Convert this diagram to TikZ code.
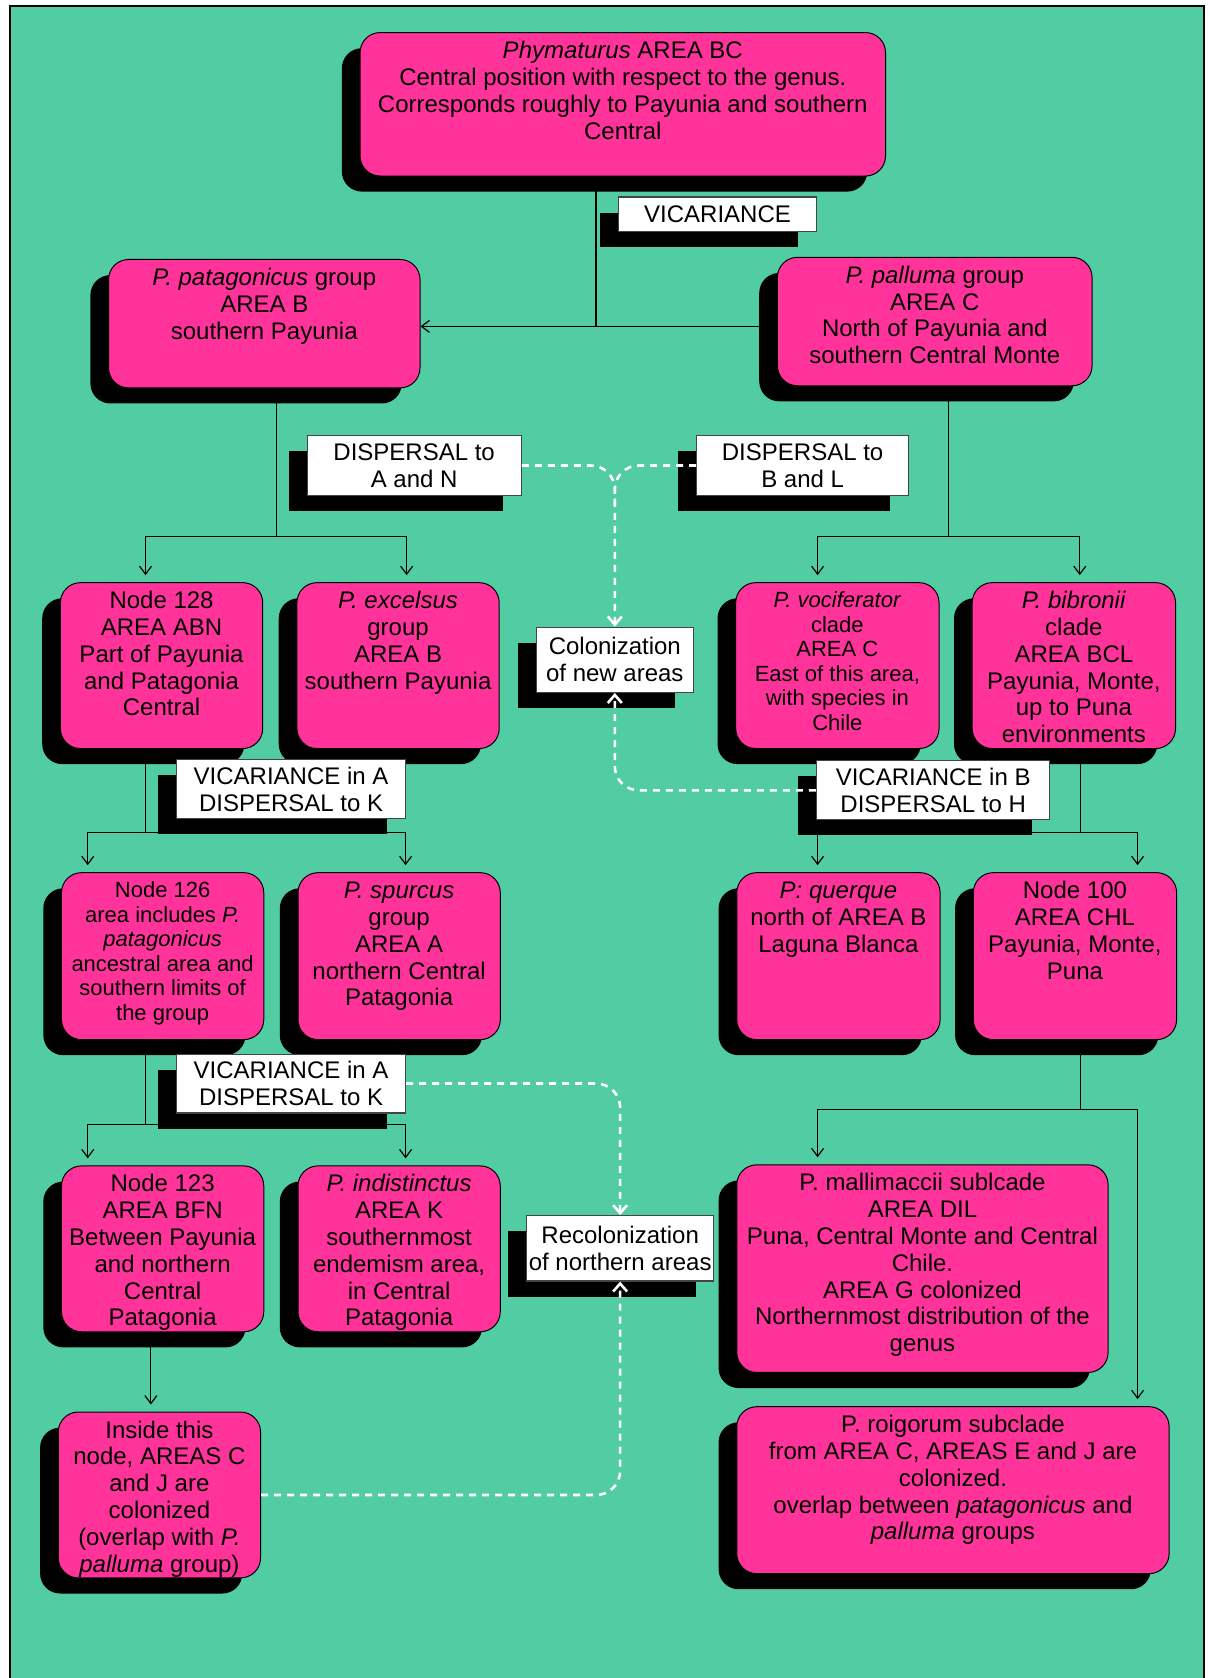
\documentclass[tikz,border=0pt]{standalone}
\usepackage{fontspec}
\setmainfont{Liberation Sans}
\usetikzlibrary{arrows.meta,shadows}
\definecolor{bggreen}{HTML}{52CCA3}
\definecolor{boxpink}{HTML}{FF3399}
\definecolor{lblgray}{HTML}{444444}
\newdimen\uu \uu=0.535pt
\newcommand\bx[3]{\parbox[c][#2\uu][t]{#1\uu}{\centering\rule{0pt}{13pt}#3\par}}
\newcommand\bxs[3]{\parbox[c][#2\uu][t]{#1\uu}{\fontsize{11}{12.3}\selectfont\centering\rule{0pt}{12.4pt}#3\par}}
\begin{document}
\begin{tikzpicture}[x=0.535pt,y=-0.535pt,
 shd/.style={drop shadow={shadow xshift=-9.1pt,shadow yshift=-7.8pt,opacity=1,fill=black}},
 pbox/.style={shd, draw=black, line width=0.5pt, fill=boxpink, rounded corners=10pt, inner sep=0pt, anchor=north west, font=\fontsize{12}{13.4}\selectfont},
 lbox/.style={shd, draw=lblgray, line width=0.6pt, fill=white, inner sep=0pt, align=center, font=\fontsize{12}{13.4}\selectfont},
 conn/.style={draw=black, line width=0.6pt},
 arr/.style={conn, -{Straight Barb[length=4pt,width=6pt]}, shorten >=3.5pt},
 harr/.style={conn, -{Straight Barb[length=4pt,width=6pt]}},
 dsh/.style={draw=white, line width=1.3pt, dash pattern=on 3.5pt off 3pt, rounded corners=12pt},
 darr/.style={dsh, -{Straight Barb[length=4pt,width=7pt]}}
]
\useasboundingbox (0,0) rectangle (1130,1568);
\fill[white] (0,0) rectangle (1130,1568);
\filldraw[fill=bggreen, draw=black, line width=0.8pt] (9.6,5.6) rectangle (1125,1600);

% pink boxes
\node[pbox] (top) at (336,30) {\bx{491}{134}{\textit{Phymaturus} AREA BC\\Central position with respect to the genus.\\Corresponds roughly to Payunia and southern\\Central}};
\node[pbox] (pat) at (101,242) {\bx{291}{120}{\textit{P. patagonicus} group\\AREA B\\southern Payunia}};
\node[pbox] (pal) at (726,240) {\bx{294}{120}{\textit{P. palluma} group\\AREA C\\North of Payunia and\\southern Central Monte}};
\node[pbox] (n128) at (56,544) {\bx{189}{155}{Node 128\\AREA ABN\\Part of Payunia\\and Patagonia\\Central}};
\node[pbox] (exc) at (277,544) {\bx{189}{155}{\textit{P. excelsus}\\group\\AREA B\\southern Payunia}};
\node[pbox] (voc) at (687,544) {\bxs{190}{155}{\textit{P. vociferator}\\clade\\AREA C\\East of this area,\\with species in\\Chile}};
\node[pbox] (bib) at (908,544) {\bx{190}{155}{\textit{P. bibronii}\\clade\\AREA BCL\\Payunia, Monte,\\up to Puna\\environments}};
\node[pbox] (n126) at (57,815) {\bxs{189}{156}{Node 126\\area includes \textit{P.}\\\textit{patagonicus}\\ancestral area and\\southern limits of\\the group}};
\node[pbox] (spu) at (278,815) {\bx{189}{156}{\textit{P. spurcus}\\group\\AREA A\\northern Central\\Patagonia}};
\node[pbox] (que) at (688,815) {\bx{190}{156}{\textit{P: querque}\\north of AREA B\\Laguna Blanca}};
\node[pbox] (n100) at (909,815) {\bx{190}{156}{Node 100\\AREA CHL\\Payunia, Monte,\\Puna}};
\node[pbox] (n123) at (57,1089) {\bx{189}{155}{Node 123\\AREA BFN\\Between Payunia\\and northern\\Central\\Patagonia}};
\node[pbox] (ind) at (278,1089) {\bx{189}{155}{\textit{P. indistinctus}\\AREA K\\southernmost\\endemism area,\\in Central\\Patagonia}};
\node[pbox] (mal) at (688,1088) {\bx{347}{194}{P. mallimaccii sublcade\\AREA DIL\\Puna, Central Monte and Central\\Chile.\\AREA G colonized\\Northernmost distribution of the\\genus}};
\node[pbox] (ins) at (54,1319) {\bx{189}{155}{Inside this\\node, AREAS C\\and J are\\colonized\\(overlap with \textit{P.}\\\textit{palluma} group)}};
\node[pbox] (roi) at (688,1314) {\bx{404}{156}{P. roigorum subclade\\from AREA C, AREAS E and J are\\colonized.\\overlap between \textit{patagonicus} and\\\textit{palluma} groups}};

% label boxes
\node[lbox, minimum width=185*\uu, minimum height=32*\uu] (vic) at (670.5,200) {VICARIANCE};
\node[lbox, minimum width=200*\uu, minimum height=56*\uu] (dAN) at (387,435) {DISPERSAL to\\A and N};
\node[lbox, minimum width=198*\uu, minimum height=56*\uu] (dBL) at (750,435) {DISPERSAL to\\B and L};
\node[lbox, minimum width=147*\uu, minimum height=61*\uu] (col) at (574.5,616.5) {Colonization\\of new areas};
\node[lbox, minimum width=214*\uu, minimum height=55*\uu] (vA1) at (272,737.5) {VICARIANCE in A\\DISPERSAL to K};
\node[lbox, minimum width=218*\uu, minimum height=55*\uu] (vB) at (872,738.5) {VICARIANCE in B\\DISPERSAL to H};
\node[lbox, minimum width=214*\uu, minimum height=55*\uu] (vA2) at (272,1012.5) {VICARIANCE in A\\DISPERSAL to K};
\node[lbox, minimum width=175*\uu, minimum height=61*\uu] (rec) at (579.5,1166.5) {Recolonization\\of northern areas};

% junction coordinates
\coordinate (j1) at (557,305);
\coordinate (j2) at (258,501); \coordinate (j2l) at (136,501); \coordinate (j2r) at (380,501);
\coordinate (j3) at (886,501); \coordinate (j3l) at (764,501); \coordinate (j3r) at (1009,501);
\coordinate (j4) at (136,778); \coordinate (j4l) at (82,778); \coordinate (j4r) at (379,778);
\coordinate (j5) at (1010,778); \coordinate (j5l) at (764,778); \coordinate (j5r) at (1063,778);
\coordinate (j6) at (136,1051); \coordinate (j6l) at (82,1051); \coordinate (j6r) at (379,1051);
\coordinate (j7) at (1010,1037); \coordinate (j7l) at (764,1037); \coordinate (j7r) at (1063,1037);
\coordinate (j8) at (141,1260);
\coordinate (cj) at (574.5,475);

% solid connectors
\draw[conn] (top.south -| j1) -- (j1);
\draw[harr] (j1) -- (pat.east |- j1);
\draw[harr] (j1) -- (pal.west |- j1);

\draw[conn] (pat.south -| j2) -- (j2);
\draw[arr] (j2) -- (j2l) -- (n128.north -| j2l);
\draw[arr] (j2) -- (j2r) -- (exc.north -| j2r);

\draw[conn] (pal.south -| j3) -- (j3);
\draw[arr] (j3) -- (j3l) -- (voc.north -| j3l);
\draw[arr] (j3) -- (j3r) -- (bib.north -| j3r);

\draw[conn] (n128.south -| j4) -- (j4);
\draw[arr] (j4) -- (j4l) -- (n126.north -| j4l);
\draw[arr] (j4) -- (j4r) -- (spu.north -| j4r);

\draw[conn] (bib.south -| j5) -- (j5);
\draw[arr] (j5) -- (j5l) -- (que.north -| j5l);
\draw[arr] (j5) -- (j5r) -- (n100.north -| j5r);

\draw[conn] (n126.south -| j6) -- (j6);
\draw[arr] (j6) -- (j6l) -- (n123.north -| j6l);
\draw[arr] (j6) -- (j6r) -- (ind.north -| j6r);

\draw[conn] (n100.south -| j7) -- (j7);
\draw[arr] (j7) -- (j7l) -- (mal.north -| j7l);
\draw[arr] (j7) -- (j7r) -- (roi.north -| j7r);

\draw[arr] (n123.south -| j8) -- (ins.north -| j8);

% dashed connectors
\draw[darr] (dAN.east) -| (col.north);
\draw[dsh] (dBL.west) -| (cj);
\draw[darr] (vB.west) -| (col.south);
\draw[darr] (vA2.east) -| (rec.north);
\draw[darr] (ins.east) -| (rec.south);
\end{tikzpicture}
\end{document}
